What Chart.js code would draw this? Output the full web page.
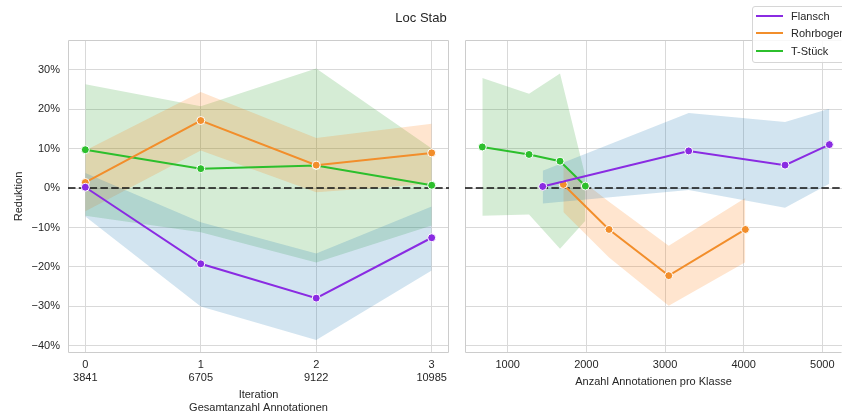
<!DOCTYPE html>
<html>
<head>
<meta charset="utf-8">
<title>Loc Stab</title>
<script src="https://cdn.jsdelivr.net/npm/chart.js@4.4.1/dist/chart.umd.min.js"></script>
<style>
    html, body { margin: 0; padding: 0; background: #fff; overflow: hidden; }
    #wrap {
        position: relative; width: 842px; height: 416px; overflow: hidden;
        font-family: 'Liberation Sans', Arial, sans-serif; color: #262626;
    }
    #title {
        position: absolute; left: 0; top: 10px; width: 842px; height: 16px;
        line-height: 16px; text-align: center; font-size: 13px;
    }
    #leftBox { position: absolute; left: 0; top: 0; width: 455px; height: 416px; }
    #rightBox { position: absolute; left: 455px; top: 0; width: 387px; height: 416px; }
    #legend {
        position: absolute; left: 752px; top: 6px; width: 110px; height: 55px;
        background: rgba(255,255,255,0.85); border: 1px solid #d6d6d6; border-radius: 3px;
        font-size: 11px;
    }
    .item { position: absolute; left: 0; height: 14px; line-height: 14px; white-space: nowrap; }
    .item i { position: absolute; left: 3px; top: 6px; width: 27px; height: 2px; }
    .item span { position: absolute; left: 38px; top: 0; }
</style>
</head>
<body>
<div id="wrap">
    <div id="leftBox"><canvas id="leftChart" width="455" height="416"></canvas></div>
    <div id="rightBox"><canvas id="rightChart" width="387" height="416"></canvas></div>
    <div id="title">Loc Stab</div>
    <div id="legend"></div>
</div>
<script>
// ---- data (Reduktion as fraction) ----
const seriesNames = ['Flansch', 'Rohrbogen', 'T-Stück'];
const lineColors = ['#8a2be2', '#f28e2b', '#2cbf2c'];
const bandColors = ['rgba(31,119,180,0.2)', 'rgba(255,127,14,0.2)', 'rgba(44,160,44,0.2)'];

// left panel: per iteration
const iterations = [0, 1, 2, 3];
const totals = ['3841', '6705', '9122', '10985'];
const iterMean = [
    [0.002, -0.192, -0.279, -0.126],
    [0.014, 0.171, 0.058, 0.089],
    [0.097, 0.049, 0.057, 0.007],
];
const iterUpper = [
    [0.038, -0.087, -0.166, -0.047],
    [0.095, 0.243, 0.127, 0.163],
    [0.263, 0.207, 0.303, 0.100],
];
const iterLower = [
    [-0.072, -0.300, -0.385, -0.209],
    [-0.059, 0.095, -0.011, 0.011],
    [-0.070, -0.112, -0.189, -0.095],
];

// right panel: per class annotation count
const classCounts = [
    [1445, 3301, 4526, 5089],
    [1707, 2288, 3047, 4021],
    [677, 1271, 1665, 1987],
];
const classMean = [
    [0.004, 0.094, 0.058, 0.110],
    [0.009, -0.105, -0.222, -0.105],
    [0.104, 0.085, 0.068, 0.005],
];
const classUpper = [
    [0.044, 0.190, 0.167, 0.201],
    [0.055, -0.035, -0.146, -0.025],
    [0.279, 0.239, 0.290, 0.030],
];
const classLower = [
    [-0.039, -0.005, -0.050, 0.011],
    [-0.061, -0.176, -0.298, -0.188],
    [-0.070, -0.067, -0.154, -0.083],
];

const yTicks = [-0.4, -0.3, -0.2, -0.1, 0, 0.1, 0.2, 0.3];
const countTicks = [1000, 2000, 3000, 4000, 5000];

// ---- shared styling ----
const FONT = "'Liberation Sans', Arial, sans-serif";
const TEXT = '#262626';
const GRID = '#d9d9d9';
Chart.defaults.font.family = FONT;
Chart.defaults.font.size = 11;
Chart.defaults.color = TEXT;

// frame (spines) + dashed zero line, drawn after the bands, before the lines
const frameAndZero = {
    id: 'frameAndZero',
    beforeDatasetsDraw(chart, args, opts) {
        const { ctx, chartArea: a, scales } = chart;
        ctx.save();
        ctx.strokeStyle = '#cccccc';
        ctx.lineWidth = 1;
        const l = a.left + 0.5, t = a.top + 0.5, r = a.right - 0.5, b = a.bottom - 0.5;
        ctx.beginPath();
        ctx.moveTo(r, t); ctx.lineTo(l, t); ctx.lineTo(l, b); ctx.lineTo(r, b);
        if (opts.rightSpine !== false) ctx.lineTo(r, t);
        ctx.stroke();
        const y0 = scales.y.getPixelForValue(0);
        ctx.setLineDash([7.5, 3.3]);
        ctx.strokeStyle = '#111';
        ctx.lineWidth = 1.6;
        ctx.beginPath();
        ctx.moveTo(a.left, y0);
        ctx.lineTo(a.right, y0);
        ctx.stroke();
        ctx.restore();
    }
};

function buildDatasets(xs, means, uppers, lowers) {
    const lines = [];
    const bands = [];
    seriesNames.forEach((name, s) => {
        const xOf = i => (Array.isArray(xs[0]) ? xs[s][i] : xs[i]);
        lines.push({
            label: name,
            data: means[s].map((v, i) => ({ x: xOf(i), y: v })),
            borderColor: lineColors[s],
            backgroundColor: lineColors[s],
            borderWidth: 2,
            pointRadius: 4,
            pointBackgroundColor: lineColors[s],
            pointBorderColor: '#ffffff',
            pointBorderWidth: 1,
            fill: false,
            tension: 0,
        });
        bands.push({
            label: name + ' upper',
            data: uppers[s].map((v, i) => ({ x: xOf(i), y: v })),
            borderColor: 'transparent',
            borderWidth: 0,
            pointRadius: 0,
            backgroundColor: bandColors[s],
            fill: '+1',
            tension: 0,
        }, {
            label: name + ' lower',
            data: lowers[s].map((v, i) => ({ x: xOf(i), y: v })),
            borderColor: 'transparent',
            borderWidth: 0,
            pointRadius: 0,
            fill: false,
            tension: 0,
        });
    });
    return lines.concat(bands);
}

function yAxis(showLabels) {
    return {
        min: -0.418,
        max: 0.375,
        afterFit: s => { s.width = showLabels ? 68 : 10; },
        afterBuildTicks: s => { s.ticks = yTicks.map(v => ({ value: v })); },
        grid: { color: GRID, lineWidth: 1, drawTicks: false },
        border: { display: false },
        ticks: {
            display: showLabels,
            padding: 8,
            color: TEXT,
            font: { size: 11 },
            callback: v => {
                const p = Math.round(v * 100);
                return (p < 0 ? '\u2212' + Math.abs(p) : p) + '%';
            },
        },
        title: {
            display: showLabels,
            text: 'Reduktion',
            color: TEXT,
            font: { size: 11 },
            padding: { top: 12, bottom: 0 },
        },
    };
}

const baseOptions = {
    responsive: false,
    animation: false,
    events: [],
};

new Chart(document.getElementById('leftChart'), {
    type: 'line',
    data: { datasets: buildDatasets(iterations, iterMean, iterUpper, iterLower) },
    plugins: [frameAndZero],
    options: {
        ...baseOptions,
        plugins: {
            legend: { display: false },
            tooltip: { enabled: false },
            filler: { drawTime: 'beforeDatasetsDraw' },
            frameAndZero: { rightSpine: true },
        },
        layout: { autoPadding: false, padding: { top: 40, right: 6, left: 0, bottom: 0 } },
        scales: {
            x: {
                type: 'linear',
                min: -0.15,
                max: 3.15,
                afterFit: s => { s.height = 63; },
                afterBuildTicks: s => { s.ticks = iterations.map(v => ({ value: v })); },
                grid: { color: GRID, lineWidth: 1, drawTicks: false },
                border: { display: false },
                ticks: {
                    padding: 5,
                    maxRotation: 0,
                    color: TEXT,
                    font: { size: 11 },
                    callback: (v, i) => [String(iterations[i]), totals[i]],
                },
                title: {
                    display: true,
                    text: ['Iteration', 'Gesamtanzahl Annotationen'],
                    color: TEXT,
                    font: { size: 11 },
                    padding: { top: 0, bottom: 1 },
                },
            },
            y: yAxis(true),
        },
    },
});

// right panel runs past the figure edge in the original, so no right spine
new Chart(document.getElementById('rightChart'), {
    type: 'line',
    data: { datasets: buildDatasets(classCounts, classMean, classUpper, classLower) },
    plugins: [frameAndZero],
    options: {
        ...baseOptions,
        plugins: {
            legend: { display: false },
            tooltip: { enabled: false },
            filler: { drawTime: 'beforeDatasetsDraw' },
            frameAndZero: { rightSpine: false },
        },
        layout: { autoPadding: false, padding: { top: 40, right: 0, left: 0, bottom: 0 } },
        scales: {
            x: {
                type: 'linear',
                min: 457,
                max: 5250,
                afterFit: s => { s.height = 63; },
                afterBuildTicks: s => { s.ticks = countTicks.map(v => ({ value: v })); },
                grid: { color: GRID, lineWidth: 1, drawTicks: false },
                border: { display: false },
                ticks: {
                    padding: 5,
                    maxRotation: 0,
                    color: TEXT,
                    font: { size: 11 },
                    callback: v => String(v),
                },
                title: {
                    display: true,
                    text: 'Anzahl Annotationen pro Klasse',
                    color: TEXT,
                    font: { size: 11 },
                    padding: { top: 0, bottom: 27 },
                },
            },
            y: yAxis(false),
        },
    },
});

// legend (sits over the right edge like the original)
const legend = document.getElementById('legend');
seriesNames.forEach((name, s) => {
    const row = document.createElement('div');
    row.className = 'item';
    row.style.top = (2 + s * 17.3) + 'px';
    row.innerHTML = '<i style="background:' + lineColors[s] + '"></i><span>' + name + '</span>';
    legend.appendChild(row);
});
</script>
</body>
</html>
